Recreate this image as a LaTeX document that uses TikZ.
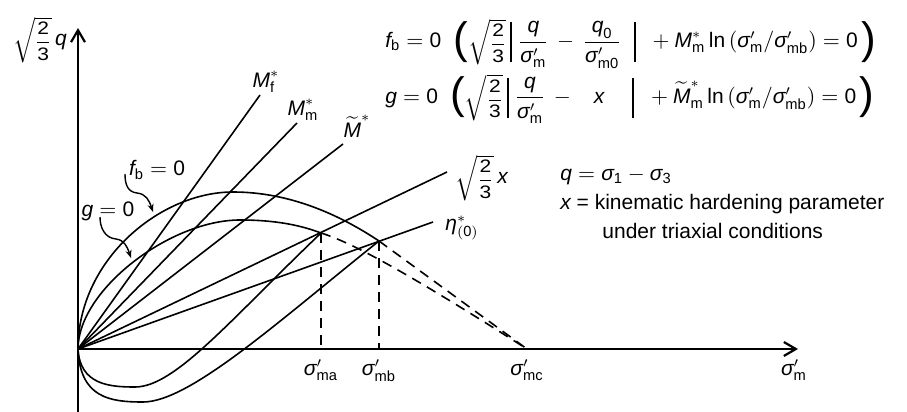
\documentclass[tikz,border=0pt]{standalone}
\usepackage{amsmath}
\usepackage{fontspec}
\setmainfont{Liberation Sans}
\usetikzlibrary{
  arrows.meta,
  positioning
}
% letters and numbers of the formulas in the text face
\newcommand{\mi}[1]{\text{\itshape #1}}
\newcommand{\num}[1]{\text{#1}}
\newcommand{\sm}[1]{\mi{σ}^{\prime}_{\text{#1}}}
\newcommand{\bigpar}[1]{\vcenter{\hbox{\fontsize{22}{22}\selectfont #1}}}
\newcommand{\bigbar}{\vcenter{\hbox{\rule{0.9pt}{20pt}}}}
\newcommand{\rtwothirds}{\vcenter{\hbox{\scalebox{1}[0.86]{$\sqrt{\dfrac{\num{2}}{\num{3}}}$}}}}
\tikzset{
  axis line/.style={
    -{Straight Barb[length=6pt,width=7pt]}, line width=1.1pt
  },
  curve line/.style={
    line width=0.8pt
  },
  ray line/.style={
    line width=0.8pt
  },
  dash line/.style={
    line width=0.8pt, dash pattern=on 5pt off 3.5pt
  },
  wiggle arrow/.style={
    -{Stealth[length=4pt,width=3pt]}, line width=0.7pt
  },
  lbl/.style={
    inner sep=1pt
  },
}
\begin{document}
\begin{tikzpicture}[x=0.5pt, y=-0.5pt, font=\fontsize{10.5}{12.6}\selectfont]
  \useasboundingbox (0,0) rectangle (907,412);

  % Key points
  \coordinate (O) at (78,349);
  \coordinate (A) at (321,233);
  \coordinate (B) at (379,241);
  \coordinate (C) at (527,349);
  \coordinate (ytop) at (78,28);
  \coordinate (ybot) at (78,412);
  \coordinate (xend) at (798,349);

  % Axes
  \draw[axis line] (ybot) -- (ytop);
  \draw[axis line] (O) -- (xend);
  \node[lbl] (ylab) at (40,40) {$\rtwothirds\,\mi{q}$};
  \node[lbl, below=4pt of xend, xshift=-2pt] (xlab) {$\sm{m}$};

  % Stress ratio lines
  \coordinate (Mf) at (260,95);
  \coordinate (Mm) at (297,123);
  \coordinate (Mt) at (343,144);
  \coordinate (X) at (447,172);
  \coordinate (Eta) at (433,222);
  \draw[ray line] (O) -- (Mf);
  \draw[ray line] (O) -- (Mm);
  \draw[ray line] (O) -- (Mt);
  \draw[ray line] (O) -- (X);
  \draw[ray line] (O) -- (Eta);
  \node[lbl, above=0pt of Mf, xshift=3pt] (mflab) {$\mi{M}^{*}_{\text{f}}$};
  \node[lbl, above=0pt of Mm, xshift=3pt] (mmlab) {$\mi{M}^{*}_{\text{m}}$};
  \node[lbl, above=2pt of Mt, xshift=7pt] (mtlab) {$\widetilde{\mi{M}}^{*}$};
  \node[lbl, right=3pt of X, yshift=-3pt] (xlab2) {$\rtwothirds\,\mi{x}$};
  \node[lbl, right=5pt of Eta, yshift=-3pt] (etalab) {$\mi{η}^{*}_{(\num{0})}$};

  % Surface f_b = 0
  \draw[curve line] (O) .. controls (78,260) and (160,192) .. (233,192)
    .. controls (290,192) and (340,215) .. (B);
  \draw[curve line] (O) .. controls (80,398) and (110,402) .. (143,402)
    .. controls (190,402) and (280,320) .. (B);
  \draw[dash line] (B) -- (C);

  % Surface g = 0
  \draw[curve line] (O) .. controls (78,290) and (170,220) .. (240,220)
    .. controls (275,220) and (300,225) .. (A);
  \draw[curve line] (O) .. controls (80,385) and (110,387) .. (135,387)
    .. controls (175,387) and (230,320) .. (A);
  \draw[dash line] (A) .. controls (350,242) and (400,268) .. (C);

  % Drops to the axis
  \coordinate (Ax) at (A |- O);
  \coordinate (Bx) at (B |- O);
  \draw[dash line] (A) -- (Ax);
  \draw[dash line] (B) -- (Bx);
  \node[lbl, below=4pt of Ax] (ma) {$\sm{ma}$};
  \node[lbl, below=4pt of Bx] (mb) {$\sm{mb}$};
  \node[lbl, below=4pt of C] (mc) {$\sm{mc}$};

  % Curve labels
  \node[lbl] (fblab) at (157,170) {$\mi{f}_{\text{b}} = \num{0}$};
  \node[lbl] (glab) at (108,211) {$\mi{g} = \num{0}$};
  \coordinate (fbs) at (125,174);
  \coordinate (fbe) at (153,212);
  \coordinate (gs) at (100,217);
  \coordinate (ge) at (131,258);
  \draw[wiggle arrow] (fbs) .. controls (125,185) and (128,192) .. (137,193)
    .. controls (146,194) and (149,200) .. (fbe);
  \draw[wiggle arrow] (gs) .. controls (100,228) and (105,238) .. (116,239)
    .. controls (124,240) and (127,246) .. (ge);

  % Equations
  \node[lbl, anchor=west] (eqf) at (383,44)
    {$\mi{f}_{\text{b}} = \num{0}\;\;\bigpar{(}\rtwothirds\,\bigbar\;\dfrac{\mi{q}}{\sm{m}}\,-\,\dfrac{\mi{q}_{\num{0}}}{\sm{m0}}\;\;\bigbar\;\;+\mi{M}^{*}_{\text{m}}\,\text{ln}\,(\sm{m}/\sm{mb}) = \num{0}\,\bigpar{)}$};
  \node[lbl, anchor=west] (eqg) at (383,99)
    {$\mi{g} = \num{0}\;\;\bigpar{(}\rtwothirds\,\bigbar\;\dfrac{\mi{q}}{\sm{m}}\,-\hspace{9pt}\mi{x}\hspace{14pt}\bigbar\;\;+\widetilde{\mi{M}}^{*}_{\text{m}}\,\text{ln}\,(\sm{m}/\sm{mb})= \num{0}\,\bigpar{)}$};

  % Definitions
  \node[lbl, anchor=west] (qdef) at (558,176) {$\mi{q} = \mi{σ}_{\num{1}}- \mi{σ}_{\num{3}}$};
  \node[lbl, anchor=west] (xdef) at (558,204) {$\mi{x}$ = kinematic hardening parameter};
  \node[lbl, anchor=west] (xdef2) at (600,231) {under triaxial conditions};
\end{tikzpicture}
\end{document}
